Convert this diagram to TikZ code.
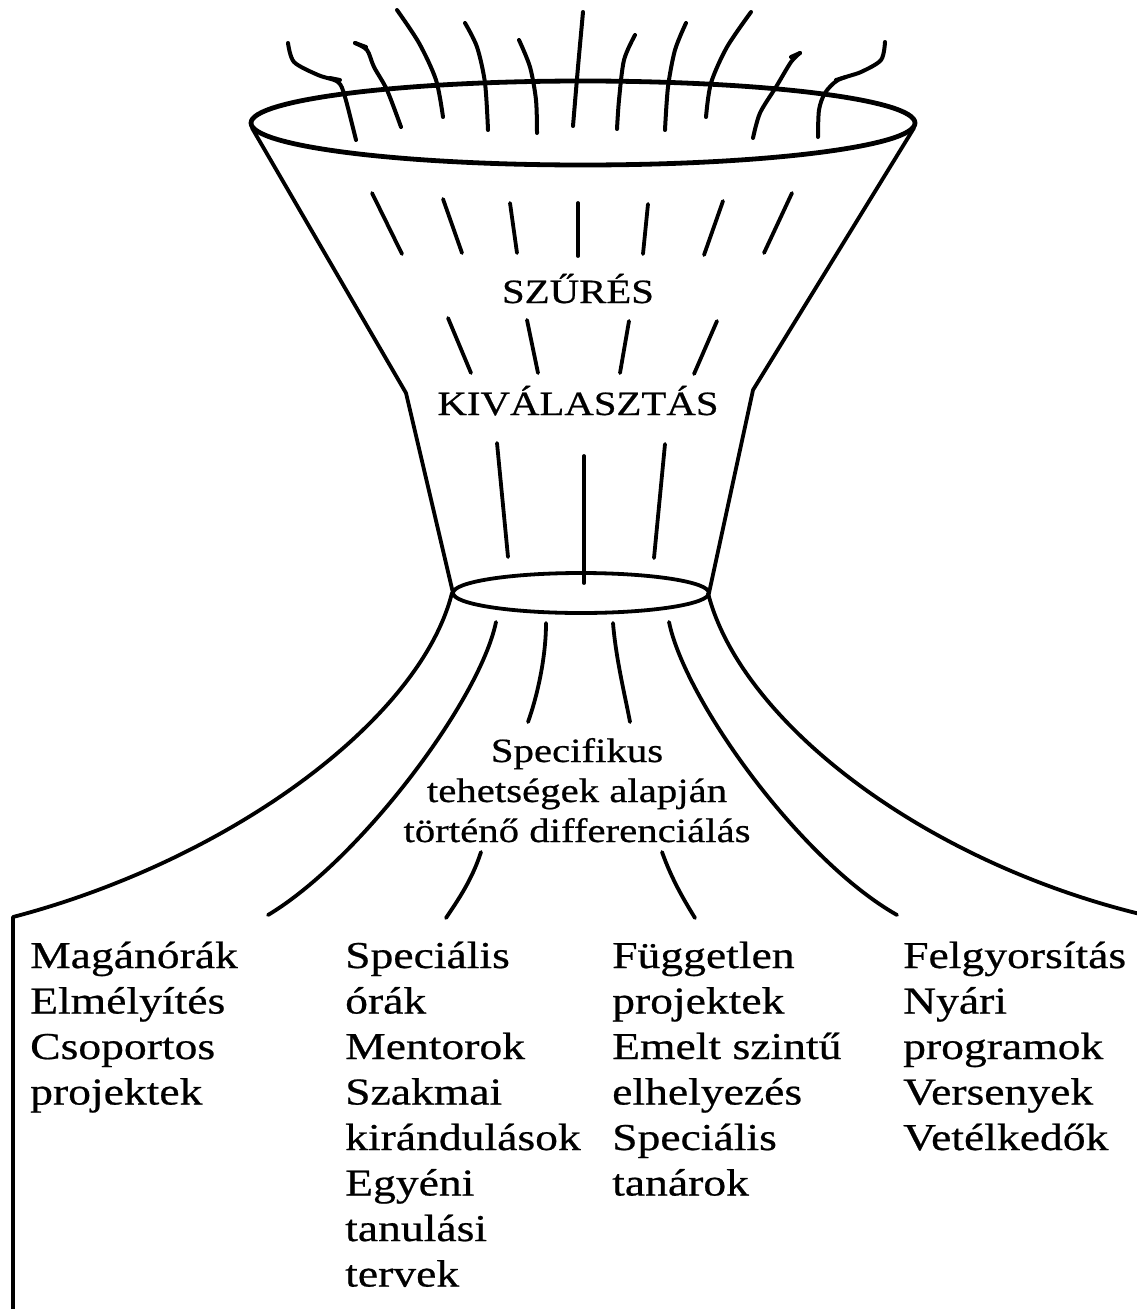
\documentclass[tikz,border=0pt]{standalone}
\usepackage{fontspec}
\setmainfont[FakeStretch=1.2, FakeBold=0.6]{Liberation Serif}
\begin{document}
\begin{tikzpicture}[x=1pt, y=-1pt, line cap=round, line join=round,
  rim/.style={line width=4.8pt},
  wall/.style={line width=3.8pt},
  hair/.style={line width=4pt},
  streak/.style={line width=3.8pt},
  caption/.style={font=\fontsize{34}{42}\selectfont, inner sep=0pt, anchor=base},
  item/.style={font=\fontsize{38}{45.5}\selectfont, inner sep=0pt, anchor=base west}]
\useasboundingbox (0,0) rectangle (1136,1309);
% Hairs above the funnel
\draw[hair] plot[smooth] coordinates {(288,43) (294,62) (318,75) (338,82) (345,97) (356,140)};
\draw[hair] (330,78) -- (340,80);
\draw[hair] plot[smooth] coordinates {(355,43) (367,50) (374,67) (387,90) (401,127)};
\draw[hair] (355,43) -- (366,47);
\draw[hair] plot[smooth] coordinates {(397,10) (419,43) (436,80) (443,117)};
\draw[hair] plot[smooth] coordinates {(465,23) (477,47) (485,83) (488,130)};
\draw[hair] plot[smooth] coordinates {(519,40) (530,67) (536,100) (537,133)};
\draw[hair] plot[smooth] coordinates {(583,12) (578,67) (573,126)};
\draw[hair] plot[smooth] coordinates {(635,35) (624,60) (619,100) (617,129)};
\draw[hair] plot[smooth] coordinates {(686,23) (675,50) (668,87) (665,130)};
\draw[hair] plot[smooth] coordinates {(751,12) (727,47) (711,83) (706,117)};
\draw[hair] plot[smooth] coordinates {(800,53) (791,62) (776,87) (760,113) (753,138)};
\draw[hair] (800,53) -- (791,57);
\draw[hair] plot[smooth] coordinates {(885,42) (881,60) (861,72) (838,80) (825,93) (819,110) (818,137)};
\draw[hair] (836,80) -- (846,77);
% Funnel
\draw[rim] (583,123) ellipse [x radius=332, y radius=42];
\draw[wall] (252,128) -- (406,393) -- (453,593);
\draw[wall] (914,128) -- (753,390) -- (709,593);
\draw[wall] (581,593) ellipse [x radius=128, y radius=20];
% Streaks inside the funnel
\draw[streak] (372,193) -- (402,254);
\draw[streak] (443,199) -- (462,253);
\draw[streak] (510,203) -- (517,253);
\draw[streak] (578,203) -- (578,256);
\draw[streak] (648,204) -- (643,254);
\draw[streak] (723,201) -- (704,255);
\draw[streak] (792,193) -- (764,253);
\draw[streak] (448,318) -- (471,373);
\draw[streak] (527,320) -- (538,373);
\draw[streak] (629,321) -- (620,373);
\draw[streak] (717,321) -- (694,374);
\draw[streak] (497,443) -- (508,557);
\draw[streak] (584,456) -- (584,583);
\draw[streak] (665,444) -- (654,558);
\node[caption] (szures) at (578,303) {SZŰRÉS};
\node[caption] (kival) at (578,415) {KIVÁLASZTÁS};
% Spreading below the neck
\draw[wall] (452,593) .. controls (420,720) and (230,860) .. (13,917) -- (13,1312);
\draw[wall] (708,593) .. controls (740,720) and (920,860) .. (1140,914);
\draw[streak] (496,622) .. controls (480,700) and (360,860) .. (268,915);
\draw[streak] (669,622) .. controls (685,700) and (800,860) .. (897,915);
\draw[streak] (546,623) .. controls (546,660) and (536,700) .. (528,722);
\draw[streak] (613,623) .. controls (616,660) and (626,700) .. (630,722);
\draw[streak] (481,852) .. controls (472,880) and (458,900) .. (446,918);
\draw[streak] (662,852) .. controls (672,880) and (684,900) .. (695,918);
\node[caption] (spec1) at (577,762) {Specifikus};
\node[caption] (spec2) at (577,802) {tehetségek alapján};
\node[caption] (spec3) at (577,842) {történő differenciálás};
% Columns of provisions
\foreach \txt [count=\i] in {Magánórák, Elmélyítés, Csoportos, projektek}
  \node[item] (ma\i) at (30,{968+45.5*(\i-1)}) {\txt};
\foreach \txt [count=\i] in {Speciális, órák, Mentorok, Szakmai, kirándulások, Egyéni, tanulási, tervek}
  \node[item] (sp\i) at (345,{968+45.5*(\i-1)}) {\txt};
\foreach \txt [count=\i] in {Független, projektek, Emelt szintű, elhelyezés, Speciális, tanárok}
  \node[item] (fu\i) at (612,{968+45.5*(\i-1)}) {\txt};
\foreach \txt [count=\i] in {Felgyorsítás, Nyári, programok, Versenyek, Vetélkedők}
  \node[item] (fe\i) at (903,{968+45.5*(\i-1)}) {\txt};
\end{tikzpicture}
\end{document}
